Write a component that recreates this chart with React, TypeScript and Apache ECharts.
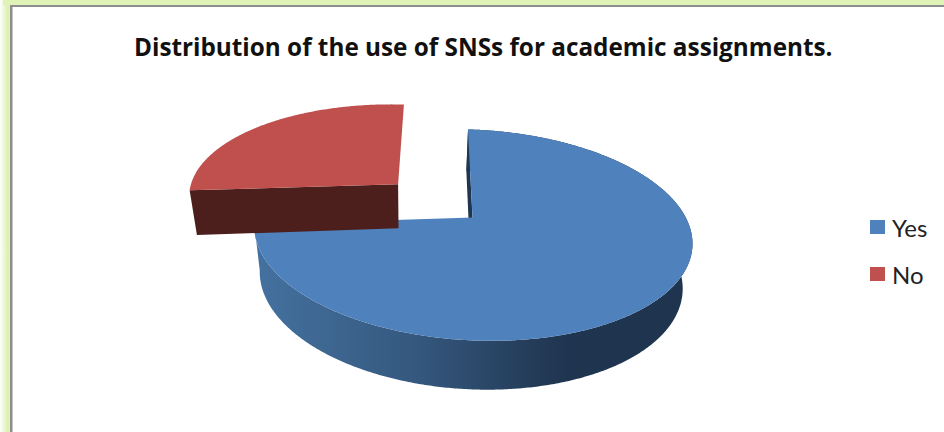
import React, { useEffect, useRef } from "react";
import * as echarts from "echarts";

const chartTitle = "Distribution of the use of SNSs for academic assignments.";
const categories = ["Yes", "No"];
const shares = [73, 27];
const topColors = ["#4F81BD", "#C0504D"];
const cutColors = ["#1F3550", "#4D1F1C"];
const explodeOffsets = [
  [0, 0],
  [-0.355, -0.32],
];

// Perspective projection of the disc: (u, v) lie on the unit circle plane, z is the extrusion depth.
function project(u: number, v: number, z: number): number[] {
  const w = 1 - 0.166 * v + 0.035 * z;
  const x = (472.5 + 216 * u - 73.2 * v + 14.4 * z) / w;
  const y = (217.5 + 6 * u + 66.6 * v + 54.4 * z) / w;
  return [x, y];
}

function rim(a0: number, a1: number, off: number[], z: number): number[][] {
  const pts: number[][] = [];
  const n = Math.ceil((a1 - a0) / 0.5);
  for (let i = 0; i <= n; i++) {
    const t = ((a0 + ((a1 - a0) * i) / n) * Math.PI) / 180;
    pts.push(project(off[0] + Math.sin(t), off[1] - Math.cos(t), z));
  }
  return pts;
}

const poly = (points: number[][], fill: unknown) => ({
  type: "polygon",
  shape: { points },
  style: { fill },
  silent: true,
});

function renderSlice(params: any, api: any) {
  const idx = params.seriesIndex;
  const total = shares.reduce((s, v) => s + v, 0);
  const before = shares.slice(0, idx).reduce((s, v) => s + v, 0);
  const a0 = (before / total) * 360;
  const a1 = a0 + (api.value(0) / total) * 360;
  const off = explodeOffsets[idx];

  const apexTop = project(off[0], off[1], 0);
  const apexBase = project(off[0], off[1], 1);
  const top = rim(a0, a1, off, 0);
  const base = rim(a0, a1, off, 1);

  const children: any[] = [];
  // The "No" slice sits at the back, so only the larger slice shows its outer wall.
  if (idx === 0) {
    const wallFill = new echarts.graphic.LinearGradient(
      257,
      0,
      567,
      0,
      [
        { offset: 0, color: "#44719F" },
        { offset: 0.5, color: "#35597F" },
        { offset: 1, color: "#1F344F" },
      ],
      true
    );
    children.push(poly([...top, ...base.slice().reverse()], wallFill));
  }
  children.push(poly([apexTop, top[0], base[0], apexBase], cutColors[idx]));
  children.push(poly([apexTop, ...top], topColors[idx]));
  return { type: "group", children };
}

export default function App() {
  const ref = useRef<HTMLDivElement>(null);

  useEffect(() => {
    const chart = echarts.init(ref.current, undefined, { renderer: "svg" });
    chart.setOption({
      animation: false,
      backgroundColor: "#FFFFFF",
      title: {
        text: chartTitle,
        left: 134,
        top: 34,
        padding: 0,
        textStyle: {
          fontFamily: "Open Sans",
          fontWeight: "bold",
          fontSize: 24.3,
          color: "#111111",
        },
      },
      legend: {
        orient: "vertical",
        left: 870,
        top: 215,
        padding: 0,
        itemWidth: 15,
        itemHeight: 14,
        itemGap: 23,
        icon: "rect",
        selectedMode: false,
        data: categories,
        textStyle: {
          fontFamily: "Lato",
          fontSize: 24,
          color: "#222222",
          padding: [0, 0, 0, 2],
        },
      },
      graphic: [
        {
          type: "rect",
          shape: { x: 0, y: 0, width: 10, height: 432 },
          style: {
            fill: new echarts.graphic.LinearGradient(0, 0, 1, 0, [
              { offset: 0, color: "#FFFFFF" },
              { offset: 0.7, color: "#DFF2B5" },
              { offset: 1, color: "#DDF1B0" },
            ]),
          },
        },
        {
          type: "rect",
          shape: { x: 3, y: 0, width: 941, height: 5 },
          style: { fill: "#E0F2B8" },
        },
        {
          type: "rect",
          shape: { x: 10, y: 5, width: 934, height: 2 },
          style: { fill: "#8E8E8E" },
        },
        {
          type: "rect",
          shape: { x: 10, y: 5, width: 2.5, height: 427 },
          style: { fill: "#8E8E8E" },
        },
      ],
      series: categories.map((name, i) => ({
        type: "custom",
        name,
        coordinateSystem: "none",
        renderItem: renderSlice,
        itemStyle: { color: topColors[i] },
        data: [[shares[i]]],
        silent: true,
      })),
    });
    return () => chart.dispose();
  }, []);

  return (
    <div
      ref={ref}
      style={{ position: "fixed", left: 0, top: 0, width: 944, height: 432 }}
    />
  );
}
